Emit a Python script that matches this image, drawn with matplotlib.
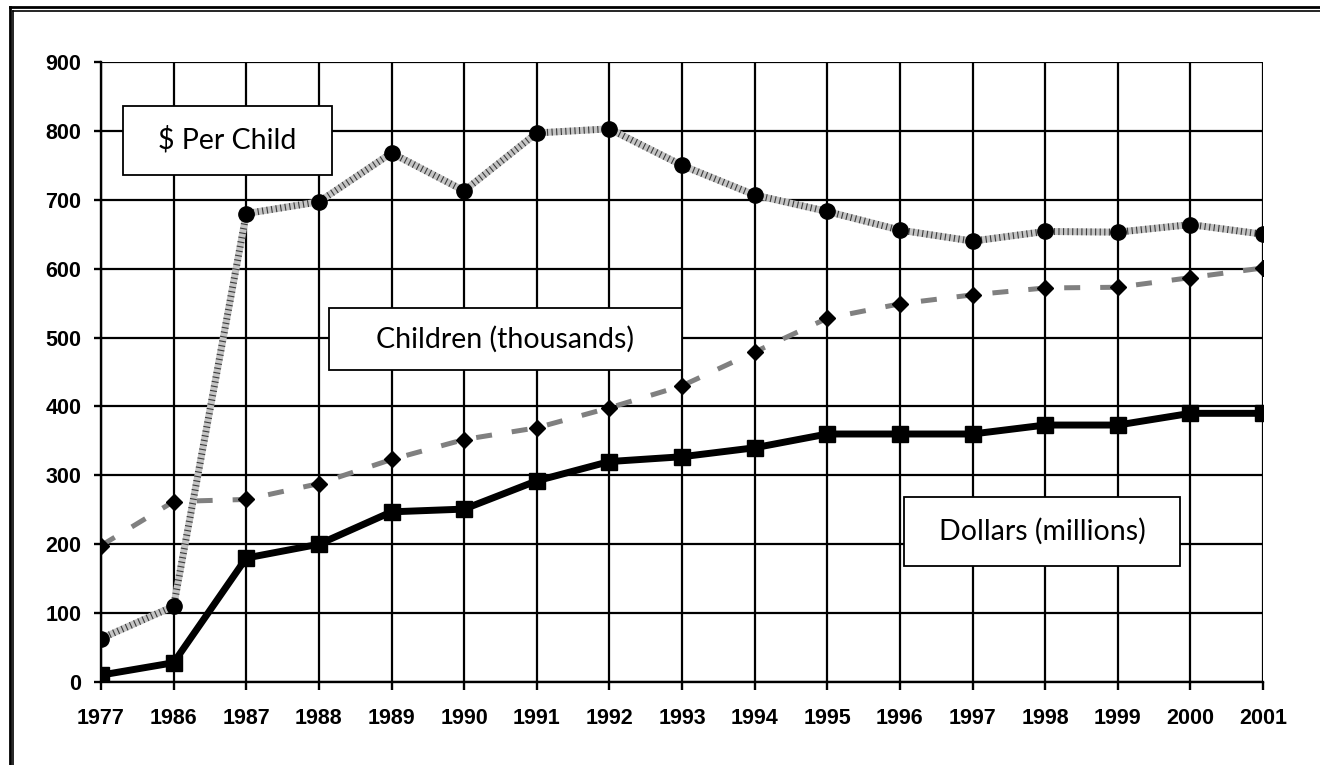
import matplotlib
matplotlib.use("Agg")
import matplotlib.pyplot as plt
from matplotlib.patches import Rectangle
from matplotlib.lines import Line2D

# data
years      = ['1977', '1986', '1987', '1988', '1989', '1990', '1991', '1992', '1993',
              '1994', '1995', '1996', '1997', '1998', '1999', '2000', '2001']
per_child  = [63, 110, 680, 697, 768, 713, 797, 803, 750, 707, 683, 656, 640, 654, 653, 664, 650]
children   = [198, 262, 265, 288, 323, 352, 369, 398, 430, 479, 528, 549, 562, 572, 573, 587, 601]
dollars    = [10, 28, 180, 200, 247, 251, 292, 320, 327, 340, 360, 360, 360, 373, 373, 390, 390]
yticks     = list(range(0, 1000, 100))

W, H = 13.2, 7.65
fig = plt.figure(figsize=(W, H), dpi=100)
ax = fig.add_axes([101/1320, 1 - 682/765, 1162/1320, 620/765])

# grid
ax.set_axisbelow(True)
ax.grid(True, color='black', linewidth=1.6)
for s in ['top', 'right']:
    ax.spines[s].set_visible(False)
for s in ['left', 'bottom']:
    ax.spines[s].set_linewidth(1.7)

# children (thousands) -- dashed grey with diamonds
ax.plot(years, children, color='#808080', linewidth=3.6, dashes=(3.2, 4.0),
        dash_capstyle='butt', marker='D', markersize=8.5, markerfacecolor='black',
        markeredgecolor='black', zorder=3)

# $ per child -- hatched grey band with circles
ax.plot(years, per_child, color='#c4c4c4', linewidth=5, solid_capstyle='butt', zorder=4)
ax.plot(years, per_child, color='#3a3a3a', linewidth=5, dashes=(0.16, 0.5),
        dash_capstyle='butt', zorder=4)
ax.plot(years, per_child, linestyle='none', marker='o', markersize=11,
        color='black', zorder=4.5)

# dollars (millions) -- thick black with squares
ax.plot(years, dollars, color='black', linewidth=5, marker='s', markersize=11, zorder=5)

ax.set_xlim(0, len(years) - 1)
ax.set_ylim(0, 900)
ax.set_yticks(yticks)

ax.tick_params(axis='y', direction='out', length=5, width=1.7, pad=9)
ax.tick_params(axis='x', direction='out', length=6, width=1.7, pad=13)
for lab in ax.get_xticklabels() + ax.get_yticklabels():
    lab.set_fontfamily('Liberation Sans')
    lab.set_fontweight('bold')
    lab.set_fontsize(15.5)

# label boxes (axes fraction)
boxes = [
    ('$ Per Child',          (0.0187, 0.8177), 0.1801, 0.1113, (0.1084, 0.874)),
    ('Children (thousands)', (0.1962, 0.503),  0.3038, 0.100,  (0.3477, 0.553)),
    ('Dollars (millions)',   (0.691, 0.187),   0.238,  0.111,  (0.810, 0.2435)),
]
for txt, xy, bw, bh, c in boxes:
    ax.add_patch(Rectangle(xy, bw, bh, transform=ax.transAxes, facecolor='white',
                           edgecolor='black', linewidth=1.3, zorder=2.5))
    ax.text(c[0], c[1], txt, transform=ax.transAxes, ha='center', va='center',
            fontfamily='Lato', fontsize=20.5, zorder=2.6)

# double border round the figure
for xx, yy, lw in [(10, 6.5, 2.0), (13, 10.5, 1.2)]:
    fig.add_artist(Line2D([xx/1320, xx/1320], [0, 1 - yy/765], transform=fig.transFigure,
                          color='black', linewidth=lw))
    fig.add_artist(Line2D([xx/1320, 1], [1 - yy/765, 1 - yy/765], transform=fig.transFigure,
                          color='black', linewidth=lw))

plt.savefig('out.png', dpi=100)
